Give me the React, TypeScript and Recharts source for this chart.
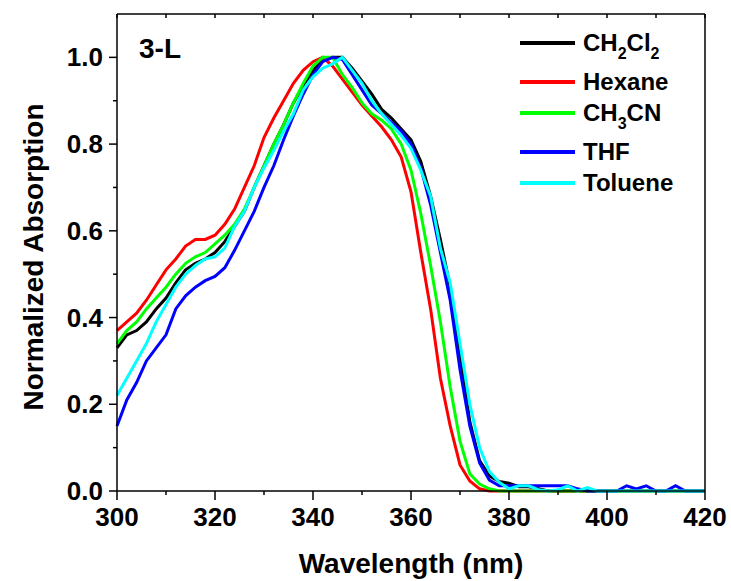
import { LineChart, Line, XAxis, YAxis, Legend, Customized } from "recharts";

// wavelength grid (nm), 2 nm steps
const WAVELENGTH = [
  300, 302, 304, 306, 308, 310, 312, 314, 316, 318,
  320, 322, 324, 326, 328, 330, 332, 334, 336, 338,
  340, 342, 344, 346, 348, 350, 352, 354, 356, 358,
  360, 362, 364, 366, 368, 370, 372, 374, 376, 378,
  380, 382, 384, 386, 388, 390, 392, 394, 396, 398,
  400, 402, 404, 406, 408, 410, 412, 414, 416, 418,
  420,
];

const CH2CL2 = [
  0.33, 0.36, 0.37, 0.39, 0.42, 0.445, 0.48, 0.51, 0.525, 0.535,
  0.55, 0.575, 0.61, 0.645, 0.7, 0.75, 0.8, 0.845, 0.895, 0.935,
  0.97, 0.995, 1.0, 1.0, 0.975, 0.945, 0.915, 0.88, 0.86, 0.835,
  0.81, 0.76, 0.68, 0.58, 0.47, 0.32, 0.16, 0.07, 0.035, 0.022,
  0.018, 0.01, 0.01, 0.005, 0, 0, 0, 0, 0, 0,
  0, 0, 0, 0, 0, 0, 0, 0, 0, 0,
  0,
];

const HEXANE = [
  0.37, 0.39, 0.41, 0.44, 0.475, 0.51, 0.535, 0.565, 0.58, 0.58,
  0.59, 0.615, 0.65, 0.7, 0.75, 0.815, 0.86, 0.9, 0.94, 0.97,
  0.99, 1.0, 0.98, 0.95, 0.92, 0.89, 0.865, 0.84, 0.81, 0.77,
  0.69, 0.55, 0.42, 0.26, 0.15, 0.06, 0.023, 0.005, 0, 0,
  0, 0, 0, 0, 0, 0, 0, 0, 0, 0,
  0, 0, 0, 0, 0, 0, 0, 0, 0, 0,
  0,
];

const CH3CN = [
  0.34, 0.37, 0.39, 0.42, 0.445, 0.47, 0.5, 0.525, 0.54, 0.55,
  0.57, 0.59, 0.615, 0.65, 0.7, 0.75, 0.8, 0.845, 0.895, 0.94,
  0.98, 1.0, 1.0, 0.96, 0.93, 0.895, 0.87, 0.855, 0.835, 0.8,
  0.74, 0.64, 0.52, 0.39, 0.24, 0.115, 0.04, 0.016, 0.005, 0,
  0, 0, 0, 0, 0, 0, 0, 0, 0, 0,
  0, 0, 0, 0, 0, 0, 0, 0, 0, 0,
  0,
];

const THF = [
  0.15, 0.21, 0.25, 0.3, 0.33, 0.36, 0.42, 0.45, 0.47, 0.485,
  0.495, 0.515, 0.555, 0.6, 0.645, 0.7, 0.75, 0.81, 0.865, 0.915,
  0.96, 0.99, 1.0, 0.995, 0.96, 0.925, 0.89, 0.87, 0.85, 0.83,
  0.8, 0.745, 0.66, 0.55, 0.44, 0.28, 0.15, 0.065, 0.025, 0.012,
  0.012, 0.012, 0.012, 0.012, 0.012, 0.012, 0.012, 0.005, 0, 0,
  0, 0, 0.012, 0.005, 0.012, 0, 0, 0.012, 0, 0,
  0,
];

const TOLUENE = [
  0.22, 0.26, 0.3, 0.34, 0.39, 0.43, 0.47, 0.5, 0.52, 0.535,
  0.54, 0.56, 0.61, 0.645, 0.7, 0.745, 0.785, 0.83, 0.87, 0.925,
  0.955, 0.975, 0.985, 1.0, 0.97, 0.94, 0.9, 0.87, 0.845, 0.82,
  0.79, 0.74, 0.68, 0.56, 0.48, 0.34, 0.2, 0.1, 0.045, 0.02,
  0.005, 0.012, 0.012, 0.003, 0, 0.003, 0.012, 0, 0.008, 0,
  0, 0, 0, 0, 0, 0, 0, 0, 0, 0,
  0,
];

const X_TICKS = [300, 310, 320, 330, 340, 350, 360, 370, 380, 390, 400, 410, 420];
const Y_TICKS = [0, 0.1, 0.2, 0.3, 0.4, 0.5, 0.6, 0.7, 0.8, 0.9, 1.0];

const SERIES = [
  { key: "CH2Cl2", values: CH2CL2, color: "#000000" },
  { key: "Hexane", values: HEXANE, color: "#FF0000" },
  { key: "CH3CN", values: CH3CN, color: "#00FF00" },
  { key: "THF", values: THF, color: "#0000FF" },
  { key: "Toluene", values: TOLUENE, color: "#00FFFF" },
];
const ORDER = SERIES.map((s) => s.key);

const data = WAVELENGTH.map((wl, i) => {
  const row: Record<string, number> = { wl };
  SERIES.forEach((s) => {
    row[s.key] = s.values[i];
  });
  return row;
});

const FONT = "'Liberation Sans', Arial, Helvetica, sans-serif";
const AXIS = { stroke: "#000", strokeWidth: 1.5 };

// bottom axis: long ticks + labels every 20 nm, short ticks between
const BottomTick = (props: any) => {
  const { x, y, payload } = props;
  const major = payload.value % 20 === 0;
  return (
    <g>
      <line x1={x} y1={y} x2={x} y2={y + (major ? 9 : 4)} stroke="#000" strokeWidth={1.5} />
      {major && (
        <text x={x} y={y + 35} textAnchor="middle" fontSize={26} fontWeight={700} fontFamily={FONT} fill="#000">
          {payload.value}
        </text>
      )}
    </g>
  );
};

const LeftTick = (props: any) => {
  const { x, y, payload } = props;
  const major = Math.round(payload.value * 10) % 2 === 0;
  return (
    <g>
      <line x1={x - (major ? 8 : 4)} y1={y} x2={x} y2={y} stroke="#000" strokeWidth={1.5} />
      {major && (
        <text x={x - 14} y={y + 9} textAnchor="end" fontSize={26} fontWeight={700} fontFamily={FONT} fill="#000">
          {payload.value.toFixed(1)}
        </text>
      )}
    </g>
  );
};

const TopTick = (props: any) => (
  <line x1={props.x} y1={props.y} x2={props.x} y2={props.y + 4} stroke="#000" strokeWidth={1.5} />
);

const RightTick = (props: any) => (
  <line x1={props.x - 4} y1={props.y} x2={props.x} y2={props.y} stroke="#000" strokeWidth={1.5} />
);

// "CH2Cl2" -> CH<sub>2</sub>Cl<sub>2</sub>
function withSubscripts(name: string) {
  return name.split(/(\d)/).map((part, i) =>
    /\d/.test(part) ? (
      <span key={i} style={{ fontSize: 16, position: "relative", top: 8 }}>
        {part}
      </span>
    ) : (
      <span key={i}>{part}</span>
    )
  );
}

const renderLegend = (props: any) => {
  const items = [...(props.payload || [])].sort(
    (a: any, b: any) => ORDER.indexOf(String(a.value)) - ORDER.indexOf(String(b.value))
  );
  return (
    <div style={{ fontFamily: FONT, fontWeight: 700, fontSize: 24, color: "#000" }}>
      {items.map((entry: any) => {
        const name = String(entry.value);
        const hasSub = /\d/.test(name);
        return (
          <div key={name} style={{ position: "relative", height: hasSub ? 39 : 31, whiteSpace: "nowrap" }}>
            <div style={{ position: "absolute", left: 0, top: 13, width: 55, height: 4, background: entry.color }} />
            <div style={{ position: "absolute", left: 63, top: 0, lineHeight: "30px" }}>{withSubscripts(name)}</div>
          </div>
        );
      })}
    </div>
  );
};

const Annotations = () => (
  <g fontFamily={FONT} fontWeight={700} fill="#000">
    <text x={139} y={58} fontSize={28}>
      3-L
    </text>
    <text x={43} y={257} fontSize={28} textAnchor="middle" transform="rotate(-90, 43, 257)">
      Normalized Absorption
    </text>
  </g>
);

export default function App() {
  return (
    <div style={{ position: "absolute", left: 0, top: 0, background: "#fff" }}>
      <LineChart width={731} height={581} data={data} margin={{ top: 13, right: 25, bottom: 0, left: 0 }}>
        <XAxis
          dataKey="wl"
          type="number"
          domain={[300, 420]}
          ticks={X_TICKS}
          interval={0}
          height={90}
          axisLine={AXIS}
          tickLine={false}
          tickSize={0}
          tickMargin={0}
          tick={<BottomTick />}
          label={{
            value: "Wavelength (nm)",
            position: "insideBottom",
            offset: 8,
            fontSize: 28,
            fontWeight: 700,
            fontFamily: FONT,
            fill: "#000",
          }}
        />
        <XAxis
          xAxisId="top"
          orientation="top"
          dataKey="wl"
          type="number"
          domain={[300, 420]}
          ticks={X_TICKS}
          interval={0}
          height={1}
          axisLine={AXIS}
          tickLine={false}
          tickSize={0}
          tickMargin={0}
          tick={<TopTick />}
        />
        <YAxis
          type="number"
          domain={[0, 1.1]}
          ticks={Y_TICKS}
          interval={0}
          width={117}
          axisLine={AXIS}
          tickLine={false}
          tickSize={0}
          tickMargin={0}
          tick={<LeftTick />}
        />
        <YAxis
          yAxisId="right"
          orientation="right"
          type="number"
          domain={[0, 1.1]}
          ticks={Y_TICKS}
          interval={0}
          width={1}
          axisLine={AXIS}
          tickLine={false}
          tickSize={0}
          tickMargin={0}
          tick={<RightTick />}
        />
        {SERIES.map((s) => (
          <Line
            key={s.key}
            dataKey={s.key}
            name={s.key}
            type="linear"
            stroke={s.color}
            strokeWidth={3}
            dot={false}
            activeDot={false}
            isAnimationActive={false}
          />
        ))}
        <Legend
          layout="vertical"
          align="center"
          verticalAlign="middle"
          wrapperStyle={{ left: 520, top: 28, width: 190 }}
          content={renderLegend}
        />
        <Customized component={Annotations} />
      </LineChart>
    </div>
  );
}
